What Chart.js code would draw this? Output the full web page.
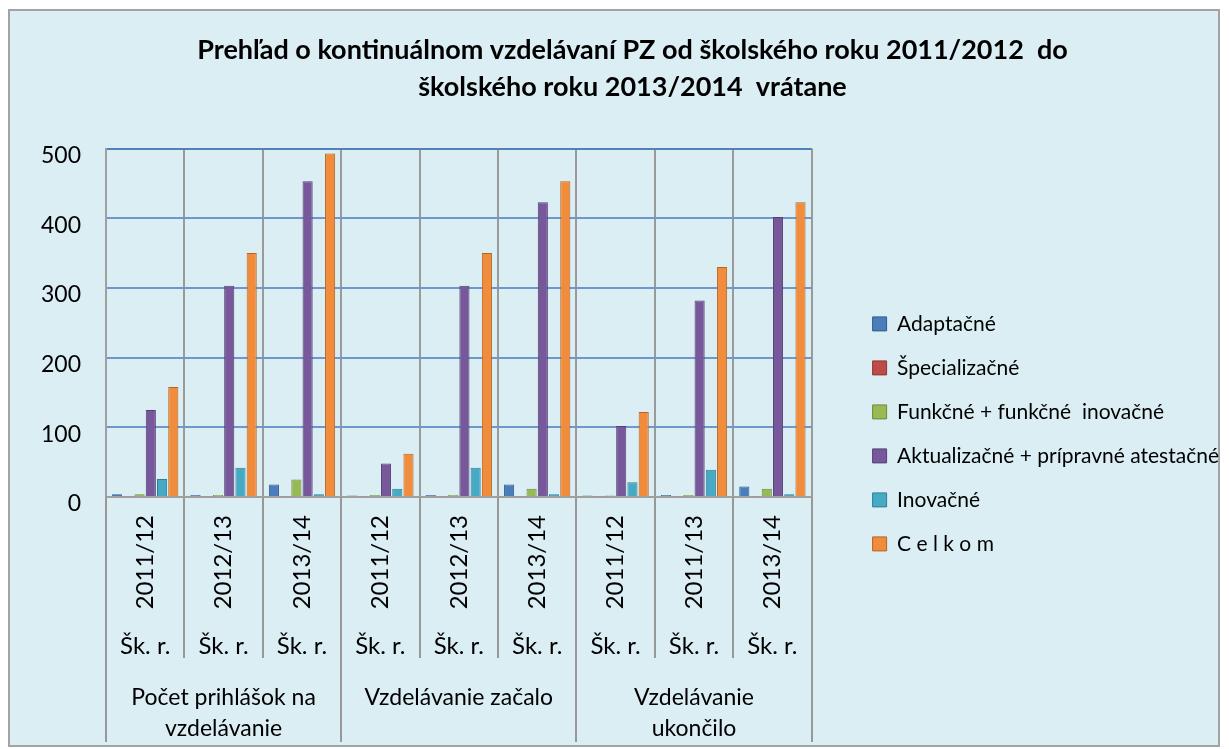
<!DOCTYPE html>
<html lang="sk">
<head>
<meta charset="utf-8">
<title>Prehľad o kontinuálnom vzdelávaní PZ</title>
<script src="https://cdn.jsdelivr.net/npm/chart.js@4.4.1/dist/chart.umd.min.js"></script>
<style>
  html, body { margin: 0; padding: 0; background: #fff; }
  #obal { width: 1229px; height: 749px; }
</style>
</head>
<body>
<div id="obal"><canvas id="graf"></canvas></div>
<script>
// kategórie (3 úrovne osi x)
const roky = ["2011/12", "2012/13", "2013/14", "2011/12", "2012/13", "2013/14", "2011/12", "2011/13", "2013/14"];
const skolskyRok = ["Šk. r.", "Šk. r.", "Šk. r.", "Šk. r.", "Šk. r.", "Šk. r.", "Šk. r.", "Šk. r.", "Šk. r."];
const skupiny = [["Počet prihlášok na", "vzdelávanie"], "Vzdelávanie začalo", ["Vzdelávanie", "ukončilo"]];

// hodnoty odčítané z grafu
const adaptacne = [4, 3, 18, 2, 3, 18, 2, 3, 15];
const specializacne = [1, 1, 1, 1, 1, 1, 1, 1, 1];
const funkcne = [4, 3, 25, 3, 3, 12, 2, 3, 12];
const aktualizacne = [125, 303, 453, 48, 303, 423, 102, 282, 402];
const inovacne = [26, 42, 4, 12, 42, 4, 21, 39, 4];
const celkom = [158, 350, 493, 62, 350, 453, 122, 330, 423];

const osY = [0, 100, 200, 300, 400, 500];

Chart.defaults.font.family = "Lato";
Chart.defaults.color = "#000";

// pozadie a rámik grafu
const pozadie = {
  id: "pozadie",
  beforeDraw(chart) {
    const c = chart.ctx;
    c.save();
    c.fillStyle = "#fff";
    c.fillRect(0, 0, chart.width, chart.height);
    c.fillStyle = "#DBEEF4";
    c.fillRect(9, 10, 1210, 736);
    c.strokeStyle = "#A3A3A3";
    c.lineWidth = 2;
    c.strokeRect(9, 10, 1210, 736);
    c.restore();
  }
};

// legenda vpravo je širšia ako štandardný limit (polovica šírky / počet zvislých boxov)
const sirokaLegenda = {
  id: "sirokaLegenda",
  beforeLayout(chart) {
    const lg = chart.legend;
    if (lg && !lg._siroka) {
      const povodne = lg.update.bind(lg);
      lg.update = (maxWidth, maxHeight, margins) => povodne(Math.max(maxWidth, 420), maxHeight, margins);
      lg._siroka = true;
    }
  }
};

// čiary tabuľky pod osou x
const tabulka = {
  id: "tabulka",
  afterDraw(chart) {
    const { x, x2, x3 } = chart.scales;
    const c = chart.ctx;
    c.save();
    c.strokeStyle = "#989898";
    c.lineWidth = 2;
    for (let i = 0; i <= roky.length; i++) {
      const px = Math.round(x.getPixelForValue(i - 0.5));
      const dolu = i % 3 === 0 ? x3.bottom : x2.bottom;
      c.beginPath();
      c.moveTo(px, x.top);
      c.lineTo(px, dolu);
      c.stroke();
    }
    c.restore();
  }
};

const sada = (label, data, farba, okraj) => ({
  label, data,
  backgroundColor: farba,
  borderColor: okraj,
  borderWidth: 1,
  barPercentage: 0.9,
  categoryPercentage: 0.86
});

new Chart(document.getElementById("graf"), {
  type: "bar",
  data: {
    labels: roky,
    datasets: [
      sada("Adaptačné", adaptacne, "#4A7EBB", "#2F5C90"),
      sada("Špecializačné", specializacne, "#BE4B48", "#8C3836"),
      sada("Funkčné + funkčné  inovačné", funkcne, "#98B954", "#6F8A3A"),
      sada("Aktualizačné + prípravné atestačné", aktualizacne, "#77599B", "#553F72"),
      sada("Inovačné", inovacne, "#46AAC5", "#2E7F96"),
      sada("C e l k o m", celkom, "#F08C3C", "#B5651D")
    ]
  },
  options: {
    responsive: true,
    maintainAspectRatio: false,
    animation: false,
    layout: { padding: { left: 36, right: 0, top: 16, bottom: 7 } },
    plugins: {
      title: {
        display: true,
        text: ["Prehľad o kontinuálnom vzdelávaní PZ od školského roku 2011/2012  do", "školského roku 2013/2014  vrátane"],
        font: { size: 27, weight: "bold", lineHeight: 1.4 },
        color: "#000",
        padding: { top: 15, bottom: 42 }
      },
      legend: {
        position: "right",
        align: "start",
        title: { display: true, text: "", padding: { top: 260, bottom: 0 } },
        labels: { font: { size: 21 }, color: "#000", boxWidth: 14, boxHeight: 14, padding: 23 }
      },
      tooltip: { enabled: false }
    },
    scales: {
      x: {
        weight: 0,
        offset: true,
        grid: { drawOnChartArea: true, drawTicks: false, color: "#9A9A9A", lineWidth: 2, offset: true, z: -2 },
        border: { display: true, color: "#A0A0A0", width: 2 },
        ticks: { font: { size: 24 }, color: "#000", minRotation: 90, maxRotation: 90, padding: 18, autoSkip: false },
        afterFit: s => { s.height = 113; }
      },
      x2: {
        type: "category",
        labels: skolskyRok,
        position: "bottom",
        weight: 1,
        offset: true,
        grid: { display: false },
        border: { display: false },
        ticks: { font: { size: 24 }, color: "#000", maxRotation: 0, padding: 14, autoSkip: false },
        afterFit: s => { s.height = 48; }
      },
      x3: {
        type: "category",
        labels: skupiny,
        position: "bottom",
        weight: 2,
        offset: true,
        grid: { display: false },
        border: { display: false },
        ticks: { font: { size: 23, lineHeight: 1.35 }, color: "#000", maxRotation: 0, padding: 16, autoSkip: false },
        afterFit: s => { s.height = 84; }
      },
      y: {
        min: osY[0],
        max: osY[osY.length - 1],
        ticks: { stepSize: 100, font: { size: 23 }, color: "#000", padding: 25, labelOffset: 7 },
        grid: {
          drawTicks: false,
          lineWidth: 2,
          z: -1,
          color: ctx => ctx.tick && ctx.tick.value === 500 ? "#4F81BD" : "#6E97CB"
        },
        border: { color: "#A0A0A0", width: 2 },
        afterFit: s => { s.width = 70; }
      },
      mezera: {
        type: "linear",
        position: "right",
        display: true,
        grid: { display: false },
        border: { display: false },
        ticks: { display: false },
        afterFit: s => { s.width = 38; }
      }
    }
  },
  plugins: [pozadie, sirokaLegenda, tabulka]
});
</script>
</body>
</html>
